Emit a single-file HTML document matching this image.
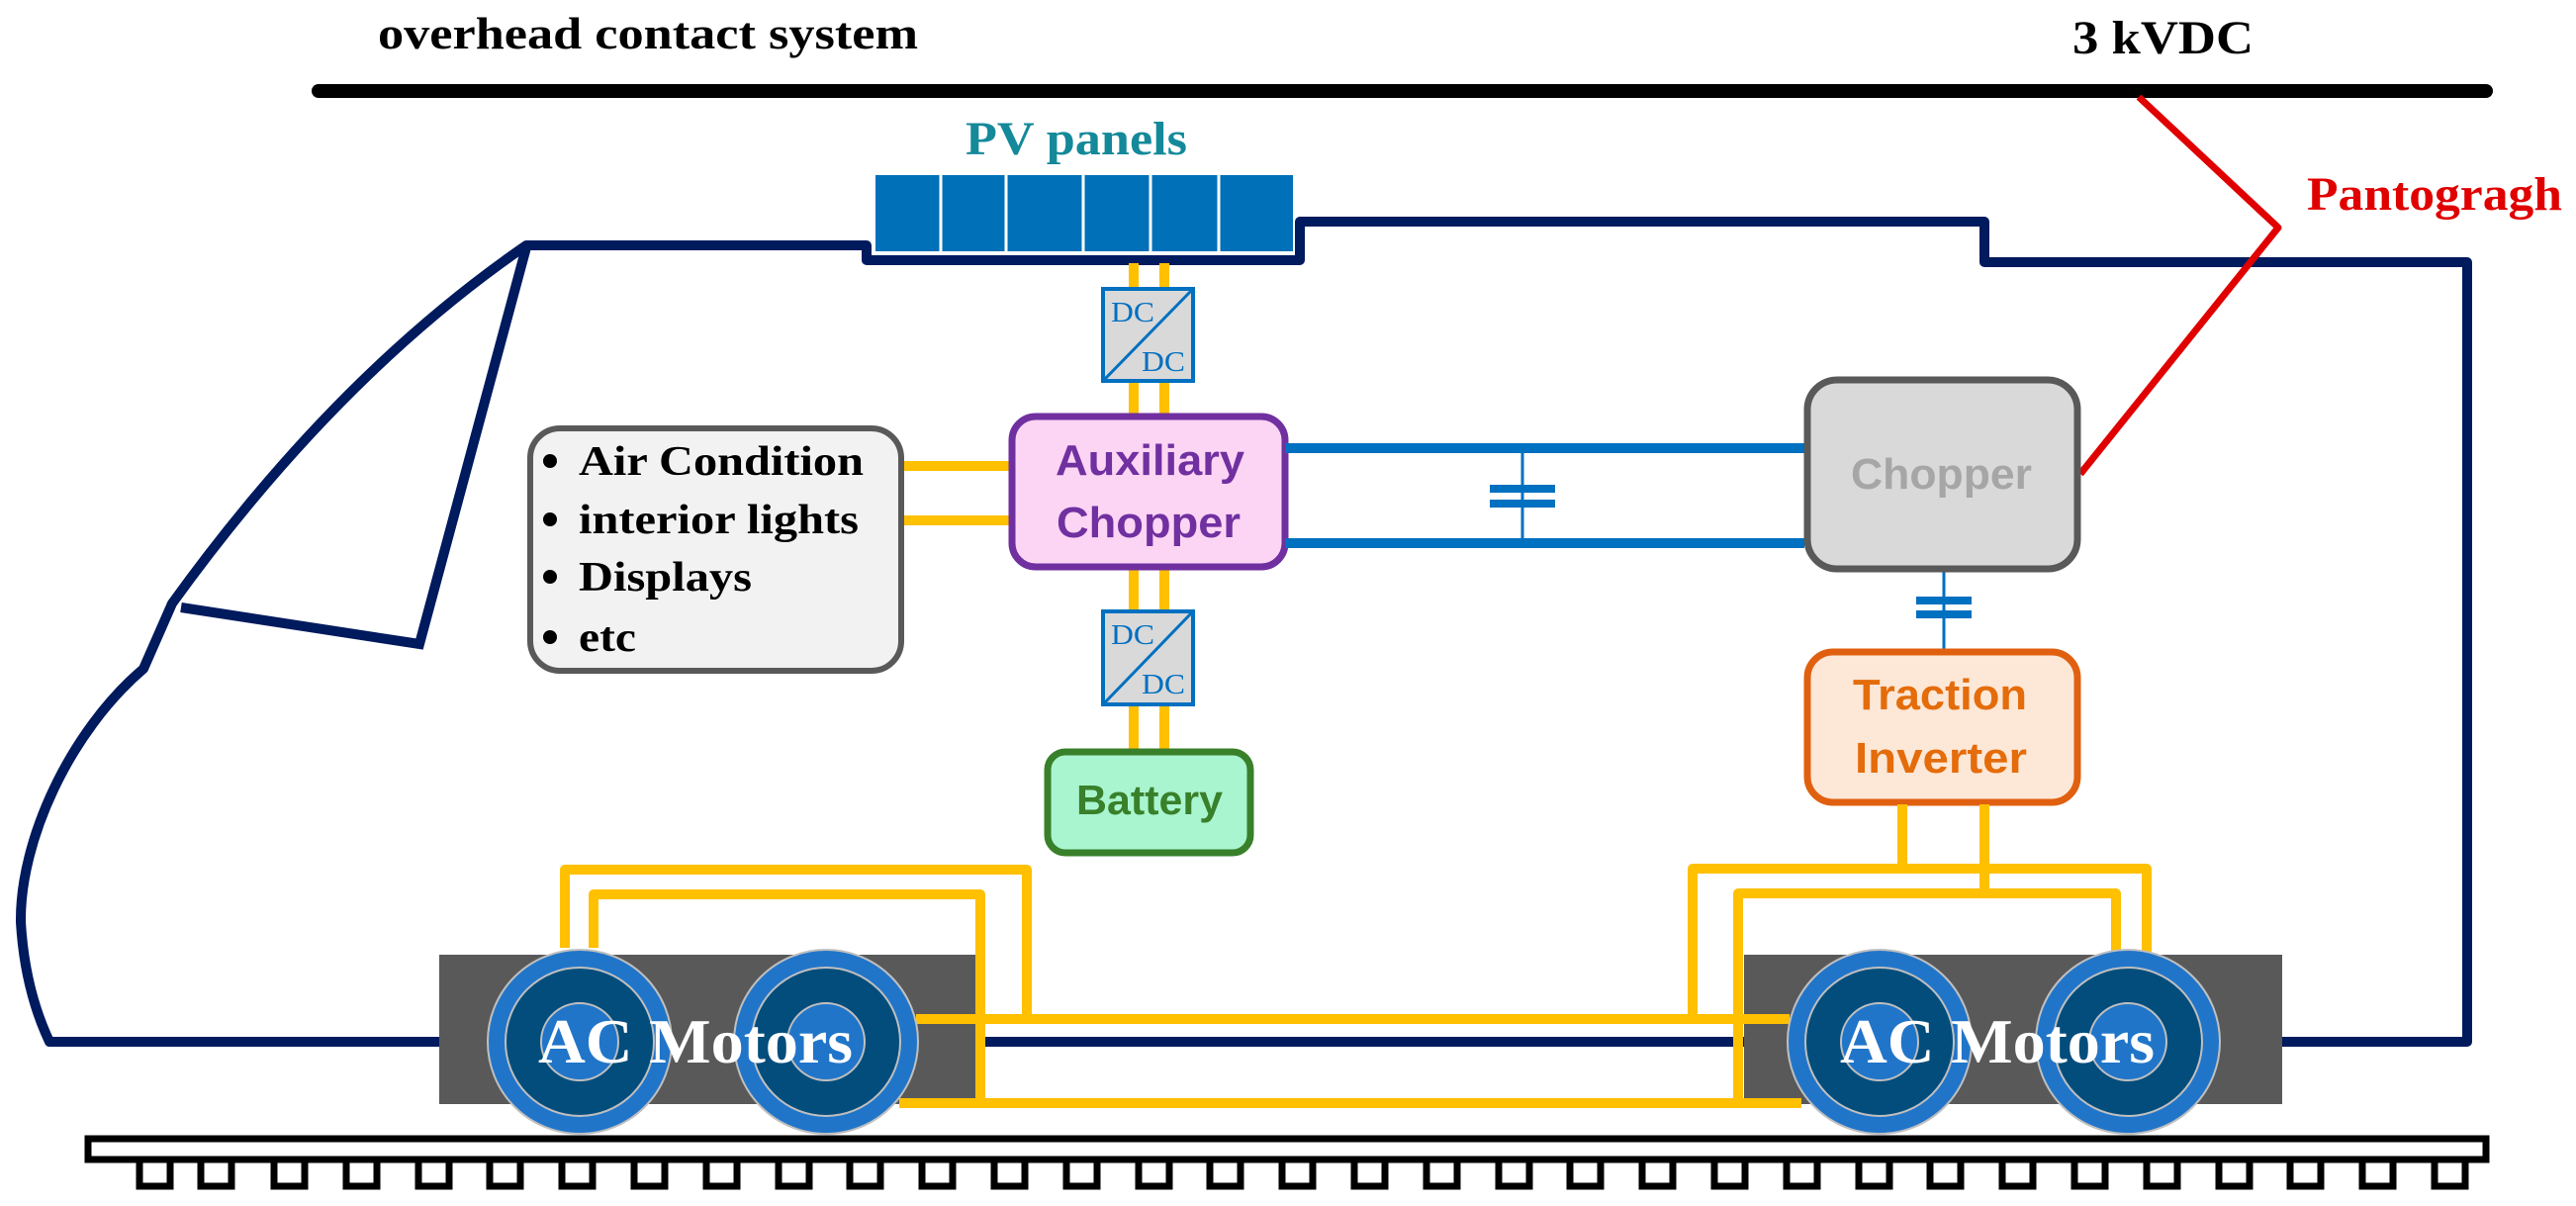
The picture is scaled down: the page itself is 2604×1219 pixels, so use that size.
<!DOCTYPE html>
<html><head><meta charset="utf-8"><style>
html,body{margin:0;padding:0;background:#fff;}
svg{display:block;}
</style></head><body>
<svg width="2604" height="1219" viewBox="0 0 2604 1219" xmlns="http://www.w3.org/2000/svg">
<line x1="322" y1="92" x2="2513" y2="92" stroke="#000" stroke-width="14" stroke-linecap="round"/>
<text x="382" y="49" font-family="Liberation Serif, serif" font-weight="bold" font-size="46" textLength="546" lengthAdjust="spacingAndGlyphs">overhead contact system</text>
<text x="2095" y="54" font-family="Liberation Serif, serif" font-weight="bold" font-size="48" textLength="183" lengthAdjust="spacingAndGlyphs">3 kVDC</text>
<text x="976" y="156" fill="#13899a" font-family="Liberation Serif, serif" font-weight="bold" font-size="48" textLength="224" lengthAdjust="spacingAndGlyphs">PV panels</text>
<text x="2332" y="212" fill="#e00000" font-family="Liberation Serif, serif" font-weight="bold" font-size="48" textLength="258" lengthAdjust="spacingAndGlyphs">Pantogragh</text>

<path d="M2494 265 L2006 265 L2006 224 L1314 224 L1314 263 L876 263 L876 248 L532 248 Q340 380 174 610 L145 676 C70 740 20 850 21 932 Q25 1000 50 1053 L2494 1053 Z" fill="none" stroke="#001a5e" stroke-width="10" stroke-linejoin="round"/>
<path d="M532 250 L424 651 L183 614" fill="none" stroke="#001a5e" stroke-width="10"/>

<rect x="885" y="177" width="422" height="77" fill="#0070b8"/>
<g stroke="#fff" stroke-width="3">
<line x1="951" y1="177" x2="951" y2="254"/><line x1="1017" y1="177" x2="1017" y2="254"/>
<line x1="1095" y1="177" x2="1095" y2="254"/><line x1="1163" y1="177" x2="1163" y2="254"/>
<line x1="1232" y1="177" x2="1232" y2="254"/>
</g>

<polyline points="2162,98 2303,230 2103,479" fill="none" stroke="#e00000" stroke-width="7" stroke-linejoin="round"/>

<g stroke="#ffc000" stroke-width="10" fill="none">
<line x1="1146" y1="266" x2="1146" y2="418"/><line x1="1177" y1="266" x2="1177" y2="418"/>
<line x1="1146" y1="574" x2="1146" y2="757"/><line x1="1177" y1="574" x2="1177" y2="757"/>
<line x1="911" y1="471" x2="1023" y2="471"/><line x1="911" y1="526" x2="1023" y2="526"/>
</g>

<g font-family="Liberation Serif, serif" font-size="28" fill="#0070c0">
<rect x="1115" y="292" width="91" height="93" fill="#d9d9d9" stroke="#0070c0" stroke-width="4"/>
<line x1="1117" y1="383" x2="1204" y2="294" stroke="#0070c0" stroke-width="3"/>
<text x="1123" y="325" textLength="44" lengthAdjust="spacingAndGlyphs">DC</text>
<text x="1154" y="375" textLength="44" lengthAdjust="spacingAndGlyphs">DC</text>
<rect x="1115" y="618" width="91" height="94" fill="#d9d9d9" stroke="#0070c0" stroke-width="4"/>
<line x1="1117" y1="710" x2="1204" y2="620" stroke="#0070c0" stroke-width="3"/>
<text x="1123" y="651" textLength="44" lengthAdjust="spacingAndGlyphs">DC</text>
<text x="1154" y="701" textLength="44" lengthAdjust="spacingAndGlyphs">DC</text>
</g>

<rect x="536" y="433" width="375" height="245" rx="30" fill="#f2f2f2" stroke="#595959" stroke-width="6"/>
<g font-family="Liberation Serif, serif" font-weight="bold" font-size="42">
<circle cx="556" cy="466" r="7"/><text x="585" y="480" textLength="288" lengthAdjust="spacingAndGlyphs">Air Condition</text>
<circle cx="556" cy="525" r="7"/><text x="585" y="539" textLength="283" lengthAdjust="spacingAndGlyphs">interior lights</text>
<circle cx="556" cy="583" r="7"/><text x="585" y="597" textLength="175" lengthAdjust="spacingAndGlyphs">Displays</text>
<circle cx="556" cy="644" r="7"/><text x="585" y="658" textLength="58" lengthAdjust="spacingAndGlyphs">etc</text>
</g>

<rect x="1023" y="421" width="276" height="152" rx="24" fill="#fcd5f5" stroke="#7030a0" stroke-width="7"/>
<g font-family="Liberation Sans, sans-serif" font-weight="bold" font-size="44" fill="#7030a0">
<text x="1067" y="480" textLength="191" lengthAdjust="spacingAndGlyphs">Auxiliary</text>
<text x="1068" y="543" textLength="186" lengthAdjust="spacingAndGlyphs">Chopper</text>
</g>

<rect x="1059" y="760" width="205" height="102" rx="18" fill="#a9f5d0" stroke="#38802a" stroke-width="7"/>
<text x="1088" y="823" fill="#38802a" font-family="Liberation Sans, sans-serif" font-weight="bold" font-size="42" textLength="148" lengthAdjust="spacingAndGlyphs">Battery</text>

<g stroke="#0070c0" fill="#0070c0">
<line x1="1299" y1="453" x2="1824" y2="453" stroke-width="10"/>
<line x1="1299" y1="549" x2="1824" y2="549" stroke-width="10"/>
<line x1="1539" y1="453" x2="1539" y2="549" stroke-width="3"/>
<rect x="1506" y="490" width="66" height="8" stroke="none"/>
<rect x="1506" y="505" width="66" height="8" stroke="none"/>
<line x1="1965" y1="576" x2="1965" y2="656" stroke-width="3"/>
<rect x="1937" y="603" width="56" height="8" stroke="none"/>
<rect x="1937" y="617" width="56" height="8" stroke="none"/>
</g>

<rect x="1827" y="384" width="273" height="191" rx="30" fill="#d9d9d9" stroke="#595959" stroke-width="7"/>
<text x="1871" y="494" fill="#a6a6a6" font-family="Liberation Sans, sans-serif" font-weight="bold" font-size="44" textLength="183" lengthAdjust="spacingAndGlyphs">Chopper</text>

<rect x="1827" y="659" width="273" height="152" rx="26" fill="#fde7d7" stroke="#e06010" stroke-width="7"/>
<g font-family="Liberation Sans, sans-serif" font-weight="bold" font-size="44" fill="#e46c0a">
<text x="1873" y="717" textLength="176" lengthAdjust="spacingAndGlyphs">Traction</text>
<text x="1875" y="781" textLength="174" lengthAdjust="spacingAndGlyphs">Inverter</text>
</g>

<rect x="444" y="965" width="543" height="151" fill="#595959"/>
<rect x="1763" y="965" width="544" height="151" fill="#595959"/>

<g stroke="#ffc000" stroke-width="10" fill="none" stroke-linejoin="round">
<line x1="1923" y1="813" x2="1923" y2="878"/>
<line x1="2006" y1="813" x2="2006" y2="903"/>
<polyline points="1711,1030 1711,878 2170,878 2170,965"/>
<polyline points="1757,1115 1757,903 2139,903 2139,963"/>
<polyline points="571,958 571,879 1038,879 1038,1030"/>
<polyline points="600,958 600,904 991,904 991,1115"/>
<line x1="926" y1="1030" x2="1809" y2="1030"/>
<line x1="909" y1="1115" x2="1821" y2="1115"/>
</g>

<g stroke="#bfbfbf" stroke-width="2">
<circle cx="586" cy="1053" r="93" fill="#2175c9"/><circle cx="586" cy="1053" r="75" fill="#024d7c"/><circle cx="586" cy="1053" r="39" fill="#2175c9"/>
<circle cx="835" cy="1053" r="93" fill="#2175c9"/><circle cx="835" cy="1053" r="75" fill="#024d7c"/><circle cx="835" cy="1053" r="39" fill="#2175c9"/>
<circle cx="1900" cy="1053" r="93" fill="#2175c9"/><circle cx="1900" cy="1053" r="75" fill="#024d7c"/><circle cx="1900" cy="1053" r="39" fill="#2175c9"/>
<circle cx="2151" cy="1053" r="93" fill="#2175c9"/><circle cx="2151" cy="1053" r="75" fill="#024d7c"/><circle cx="2151" cy="1053" r="39" fill="#2175c9"/>
</g>
<g font-family="Liberation Serif, serif" font-weight="bold" font-size="64" fill="#fff">
<text x="544" y="1074" textLength="318" lengthAdjust="spacingAndGlyphs">AC Motors</text>
<text x="1860" y="1074" textLength="318" lengthAdjust="spacingAndGlyphs">AC Motors</text>
</g>

<rect x="89" y="1151" width="2424" height="21" fill="#fff" stroke="#000" stroke-width="7"/>
<path fill="none" stroke="#000" stroke-width="7" d="M141 1175V1199H172V1175 M203 1175V1199H234V1175 M277 1175V1199H308V1175 M350 1175V1199H381V1175 M423 1175V1199H454V1175 M495 1175V1199H526V1175 M568 1175V1199H599V1175 M641 1175V1199H672V1175 M714 1175V1199H745V1175 M787 1175V1199H818V1175 M859 1175V1199H890V1175 M932 1175V1199H963V1175 M1005 1175V1199H1036V1175 M1078 1175V1199H1109V1175 M1151 1175V1199H1182V1175 M1223 1175V1199H1254V1175 M1296 1175V1199H1327V1175 M1369 1175V1199H1400V1175 M1442 1175V1199H1473V1175 M1515 1175V1199H1546V1175 M1587 1175V1199H1618V1175 M1660 1175V1199H1691V1175 M1733 1175V1199H1764V1175 M1806 1175V1199H1837V1175 M1879 1175V1199H1910V1175 M1951 1175V1199H1982V1175 M2024 1175V1199H2055V1175 M2097 1175V1199H2128V1175 M2170 1175V1199H2201V1175 M2243 1175V1199H2274V1175 M2315 1175V1199H2346V1175 M2388 1175V1199H2419V1175 M2461 1175V1199H2492V1175"/>
</svg>
</body></html>
